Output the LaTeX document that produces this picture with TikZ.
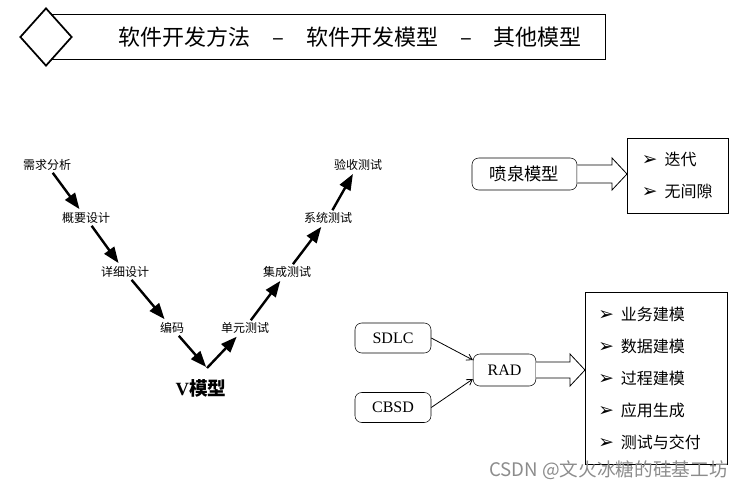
\documentclass[tikz,border=0pt]{standalone}
\usepackage{fontspec}
\setmainfont{Liberation Serif}
\newfontfamily\cjk{Noto Sans CJK SC}
\newfontfamily\sym{DejaVu Sans}
\usetikzlibrary{%
	positioning,
	calc,
	arrows.meta,
	shapes.geometric
}
\newcommand\itm[1]{\makebox[17pt][l]{\sym\fontsize{14}{12}\selectfont ➢}#1}

\begin{document}
\begin{tikzpicture}[x=0.75pt,y=-0.75pt,
		vtext/.style={font=\cjk\fontsize{9}{10}\selectfont,inner sep=1.5pt},
		vstep/.style={line width=1.8pt,-{Triangle[length=12pt,width=9pt]},shorten >=1pt},
		modelbox/.style={draw,rounded corners=5pt,inner sep=0pt,font=\fontsize{12}{14}\selectfont},
		featlist/.style={draw,align=left,anchor=north west,inner ysep=0pt,font=\cjk\fontsize{12}{24}\selectfont},
		fatarrow/.style={draw,fill=white,line width=0.6pt,line join=miter},
		feed/.style={line width=0.6pt,-{Straight Barb[length=4pt,width=5pt]}}
	]
	\useasboundingbox (0,0) rectangle (743,490);

	% title bar
	\node(titlebar) [draw,line width=0.8pt,anchor=west,minimum width=416pt,minimum height=34pt] at (50,37) {};
	\node(titletext) [font=\cjk\fontsize{16.5}{18}\selectfont] at (350,37) {软件开发方法\hspace{1em}–\hspace{1em}软件开发模型\hspace{1em}–\hspace{1em}其他模型};
	\node(deco) [diamond,draw,fill=white,line width=1.3pt,inner sep=0pt,minimum width=39pt,minimum height=43.5pt] at (46,37) {};

	% V model
	\node(xqfx) [vtext] at (47,165) {需求分析};
	\node(gysj) [vtext] at (86,218) {概要设计};
	\node(xxsj) [vtext] at (125,272) {详细设计};
	\node(bm) [vtext] at (172,328) {编码};
	\coordinate(vtip) at (207,368);
	\node(dycs) [vtext] at (245,328) {单元测试};
	\node(jccs) [vtext] at (287,272) {集成测试};
	\node(xtcs) [vtext] at (328,218) {系统测试};
	\node(yscs) [vtext] at (358,165) {验收测试};
	\node(vname) [font=\bfseries\fontsize{14}{16}\selectfont] at (201,388) {V{\cjk 模型}};

	\draw [vstep] (xqfx) -- (gysj);
	\draw [vstep] (gysj) -- (xxsj);
	\draw [vstep] (xxsj) -- (bm);
	\draw [vstep] (bm) -- (vtip);
	\draw [vstep] (vtip) -- (dycs);
	\draw [vstep] (dycs) -- (jccs);
	\draw [vstep] (jccs) -- (xtcs);
	\draw [vstep] (xtcs) -- (yscs);

	% fountain model
	\node(fq) [modelbox,minimum width=78.75pt,minimum height=24pt,font=\cjk\fontsize{13}{15}\selectfont] at (524.5,174) {喷泉模型};
	\node(fqlist) [featlist,minimum width=75.75pt,minimum height=56.25pt,inner xsep=11pt,text width=53.75pt] at (627,138) {\itm{迭代}\\\itm{无间隙}};
	\coordinate(fqtip) at (fq.east -| fqlist.west);
	\draw [fatarrow] ($(fq.east)+(0,-9)$) -- ($(fqtip)+(-15,-9)$) -- ++(0,-7) -- (fqtip) -- ($(fqtip)+(-15,16)$) -- ++(0,-7) -- ($(fq.east)+(0,9)$);

	% RAD
	\node(sdlc) [modelbox,minimum width=57pt,minimum height=22.5pt] at (393,338) {SDLC};
	\node(cbsd) [modelbox,minimum width=57pt,minimum height=22.5pt] at (393,407.5) {CBSD};
	\node(rad) [modelbox,minimum width=47pt,minimum height=24pt] at (504.5,370) {RAD};
	\node(radlist) [featlist,minimum width=106.5pt,minimum height=129pt,inner xsep=9.75pt,text width=87pt] at (585,292) {\itm{业务建模}\\\itm{数据建模}\\\itm{过程建模}\\\itm{应用生成}\\\itm{测试与交付}};
	\coordinate(radtip) at (rad.east -| radlist.west);

	\draw [feed] (sdlc.east) -- ($(rad.west)+(0,-10)$);
	\draw [feed] (cbsd.east) -- ($(rad.west)+(0,9)$);
	\draw [fatarrow] ($(rad.east)+(0,-8)$) -- ($(radtip)+(-15,-8)$) -- ++(0,-8) -- (radtip) -- ($(radtip)+(-15,16)$) -- ++(0,-8) -- ($(rad.east)+(0,8)$);

	% watermark
	\node(wm) [font=\cjk\fontsize{14}{16}\selectfont,text=black!45,anchor=east,inner sep=0pt] at (728,470) {CSDN @文火冰糖的硅基工坊};
\end{tikzpicture}
\end{document}
